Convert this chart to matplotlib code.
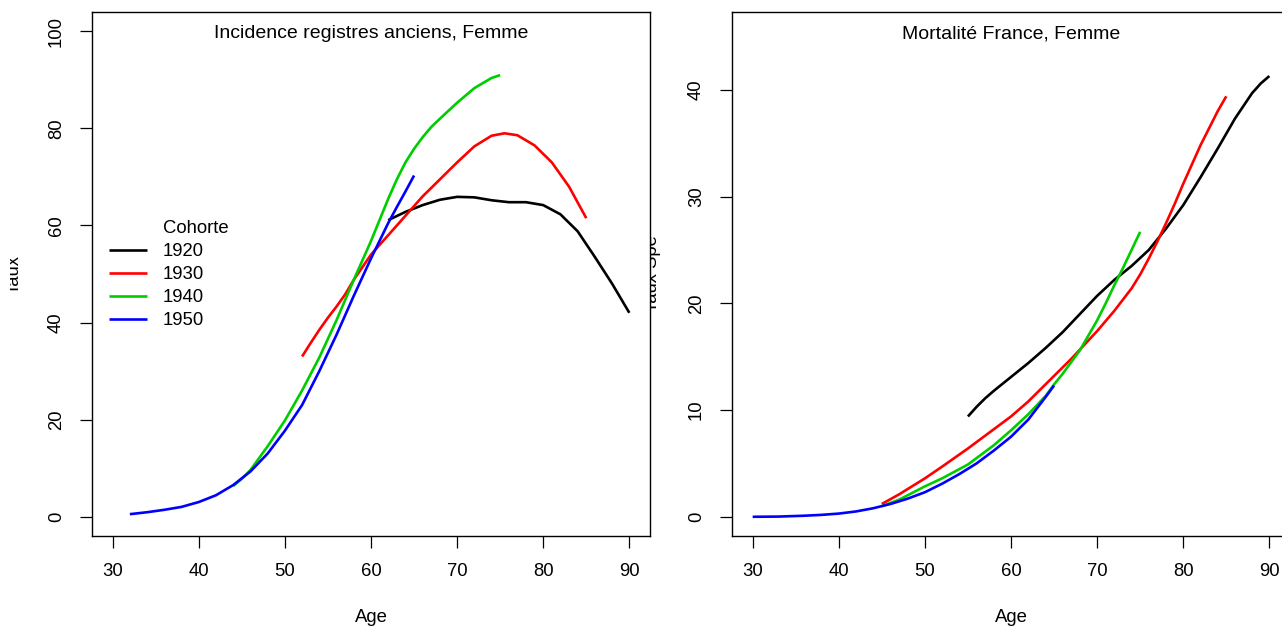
import matplotlib
matplotlib.use("Agg")
import matplotlib.pyplot as plt
from matplotlib.lines import Line2D
from matplotlib.transforms import Bbox

plt.rcParams['font.family'] = ['Liberation Sans', 'DejaVu Sans']

# ---------------- data ----------------
cohorts = ["1920", "1930", "1940", "1950"]
colors = ["#000000", "#FF0000", "#00CD00", "#0000FF"]
legend_title = "Cohorte"

# Left panel: Incidence registres anciens, Femme
inc_age_1920 = [62, 64, 66, 68, 70, 72, 74, 76, 78, 80, 82, 84, 86, 88, 90]
inc_1920 = [61.1, 62.8, 64.2, 65.3, 65.9, 65.8, 65.2, 64.8, 64.8, 64.2, 62.3, 58.8, 53.5, 48.0, 42.0]
inc_age_1930 = [52, 53, 54, 55, 56, 57, 58, 60, 62, 64, 66, 68, 70, 72, 74, 75.5, 77, 79, 81, 83, 85]
inc_1930 = [33.0, 35.8, 38.5, 41.0, 43.3, 45.8, 48.8, 54.0, 58.0, 62.0, 66.0, 69.5, 73.0, 76.3, 78.5, 79.0, 78.6, 76.5, 73.0, 68.0, 61.5]
inc_age_1940 = [44, 45, 46, 48, 50, 52, 54, 56, 58, 60, 62, 63, 64, 65, 66, 67, 68, 70, 72, 74, 75]
inc_1940 = [6.3, 7.8, 9.6, 14.5, 19.8, 26.0, 32.8, 40.5, 48.8, 56.8, 65.5, 69.5, 73.0, 75.8, 78.2, 80.3, 82.0, 85.3, 88.3, 90.4, 91.0]
inc_age_1950 = [32, 34, 36, 38, 40, 42, 44, 46, 48, 50, 52, 54, 56, 58, 60, 62, 63, 64, 65]
inc_1950 = [0.5, 0.9, 1.4, 2.0, 3.0, 4.4, 6.5, 9.3, 13.0, 17.7, 23.0, 30.0, 37.5, 45.5, 53.2, 60.5, 63.8, 67.0, 70.3]

# Right panel: Mortalité France, Femme
mort_age_1920 = [55, 56, 57, 58, 60, 62, 64, 66, 68, 70, 72, 74, 76, 78, 80, 82, 84, 86, 88, 89, 90]
mort_1920 = [9.4, 10.3, 11.1, 11.8, 13.1, 14.4, 15.8, 17.3, 19.0, 20.7, 22.2, 23.5, 25.0, 27.0, 29.2, 31.8, 34.5, 37.3, 39.7, 40.6, 41.3]
mort_age_1930 = [45, 47, 50, 52, 55, 57, 60, 62, 65, 67, 70, 72, 74, 75, 76, 77, 78, 79, 80, 82, 84, 85]
mort_1930 = [1.2, 2.1, 3.6, 4.7, 6.4, 7.6, 9.4, 10.8, 13.2, 14.8, 17.4, 19.3, 21.4, 22.7, 24.2, 25.8, 27.5, 29.3, 31.2, 34.8, 38.0, 39.4]
mort_age_1940 = [45, 47, 50, 52, 55, 58, 60, 62, 64, 65, 66, 68, 70, 71, 72, 73, 74, 75]
mort_1940 = [1.0, 1.6, 2.85, 3.6, 4.9, 6.7, 8.1, 9.6, 11.3, 12.4, 13.4, 15.6, 18.4, 20.0, 21.7, 23.3, 25.0, 26.7]
mort_age_1950 = [30, 33, 36, 38, 40, 42, 44, 46, 48, 50, 52, 54, 56, 58, 60, 62, 64, 65]
mort_1950 = [0.0, 0.02, 0.1, 0.18, 0.3, 0.5, 0.8, 1.2, 1.7, 2.3, 3.1, 4.0, 5.0, 6.2, 7.5, 9.1, 11.2, 12.3]

xticks = [30, 40, 50, 60, 70, 80, 90]
yticks_inc = [0, 20, 40, 60, 80, 100]
yticks_mort = [0, 10, 20, 30, 40]

# ---------------- figure ----------------
W, H = 1282, 628
fig = plt.figure(figsize=(W / 100, H / 100), dpi=100)


def px_axes(x0, y0, x1, y1):
    return fig.add_axes([x0 / W, (H - y1) / H, (x1 - x0) / W, (y1 - y0) / H])


ax1 = px_axes(92, 12, 650, 536)
ax2 = px_axes(732, 12, 1290, 536)

LW = 1.9
FS = 13.3

for ax in (ax1, ax2):
    for s in ax.spines.values():
        s.set_linewidth(1.0)
    ax.tick_params(direction='out', length=8.5, width=0.9, labelsize=FS, pad=11)
    ax.set_xticks(xticks)
    ax.set_xlim(27.6, 92.4)
    ax.set_xlabel("Age", fontsize=FS, labelpad=21)

# Left panel
series_inc = [(inc_age_1920, inc_1920), (inc_age_1930, inc_1930),
              (inc_age_1940, inc_1940), (inc_age_1950, inc_1950)]
lines = []
for (a, v), c, lab in zip(series_inc, colors, cohorts):
    ln, = ax1.plot(a, v, color=c, lw=LW, label=lab, solid_capstyle='butt')
    lines.append(ln)
ax1.set_ylim(-4, 104)
ax1.set_yticks(yticks_inc)
ax1.set_yticklabels([str(t) for t in yticks_inc], rotation=90, va='center')
ax1.set_title("Incidence registres anciens, Femme", fontsize=14, y=1, pad=-19)

title_handle = Line2D([], [], color='none')
ax1.legend([title_handle] + lines, [legend_title] + cohorts,
           loc='upper left', bbox_to_anchor=(109 / W, (H - 220) / H),
           bbox_transform=fig.transFigure, frameon=False, fontsize=FS,
           handlelength=2.05, handletextpad=0.85, labelspacing=0.33,
           borderpad=0, borderaxespad=0)

# Right panel
series_mort = [(mort_age_1920, mort_1920), (mort_age_1930, mort_1930),
               (mort_age_1940, mort_1940), (mort_age_1950, mort_1950)]
for (a, v), c, lab in zip(series_mort, colors, cohorts):
    ax2.plot(a, v, color=c, lw=LW, solid_capstyle='butt')
ax2.set_ylim(-1.8, 47.3)
ax2.set_yticks(yticks_mort)
ax2.set_yticklabels([str(t) for t in yticks_mort], rotation=90, va='center')
ax2.set_title("Mortalité France, Femme", fontsize=14, y=1, pad=-19)
ax2.spines['right'].set_visible(False)

# y labels (clipped like the reference)
t1 = fig.text(19 / W, (H - 274) / H, "Taux", rotation=90, fontsize=FS,
              ha='center', va='baseline', rotation_mode='anchor')
t1.set_clip_box(Bbox.from_extents(10, 0, W, H))
t1.set_clip_on(True)
t2 = fig.text(657 / W, (H - 274) / H, "Taux Spe", rotation=90, fontsize=FS,
              ha='center', va='baseline', rotation_mode='anchor')
t2.set_clip_box(Bbox.from_extents(650, 0, W, H))
t2.set_clip_on(True)

fig.savefig("out.png", dpi=100)
